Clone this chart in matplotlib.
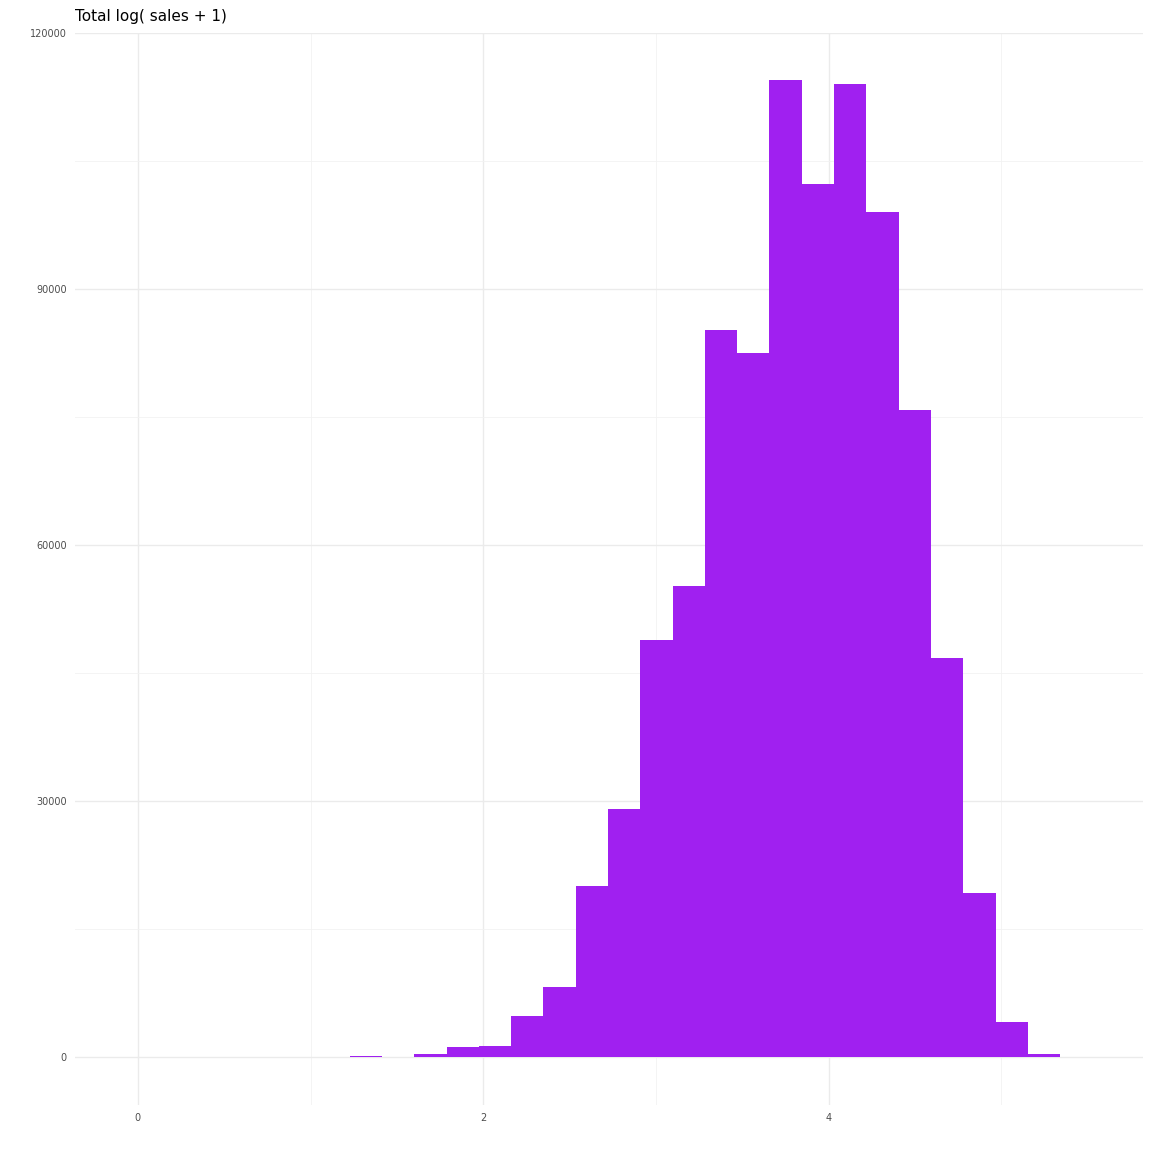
import numpy as np
import matplotlib.pyplot as plt

# histogram of log(sales + 1), counts
bin_start = 1.227
bin_width = 0.187
counts = [150, 0, 300, 1200, 1300, 4800, 8200, 20100, 29100, 48900, 55200,
          85200, 82500, 114500, 102300, 114100, 99100, 75900, 46800, 19200,
          4100, 400]
edges = bin_start + bin_width * np.arange(len(counts))

fig = plt.figure(figsize=(11.52, 11.52), dpi=100)
ax = fig.add_axes([0.065, 0.041, 0.927, 0.93])

ax.bar(edges, counts, width=bin_width, align='edge', color='#a020f0', linewidth=0, zorder=2)

ax.set_xlim(-0.365, 5.82)
ax.set_ylim(-5600, 120000)
ax.set_xticks([0, 2, 4])
ax.set_xticks([1, 3, 5], minor=True)
ax.set_yticks([0, 30000, 60000, 90000, 120000])
ax.set_yticks([15000, 45000, 75000, 105000], minor=True)
ax.grid(True, which='major', color='#ebebeb', linewidth=1.0, zorder=0)
ax.grid(True, which='minor', color='#f2f2f2', linewidth=0.6, zorder=0)
ax.tick_params(which='both', length=0, labelsize=7, labelcolor='#4d4d4d', pad=6)
for s in ax.spines.values():
    s.set_visible(False)

fig.text(0.065, 0.986, 'Total log( sales + 1)', fontsize=11, ha='left', va='center')

fig.savefig('out.png', dpi=100)
